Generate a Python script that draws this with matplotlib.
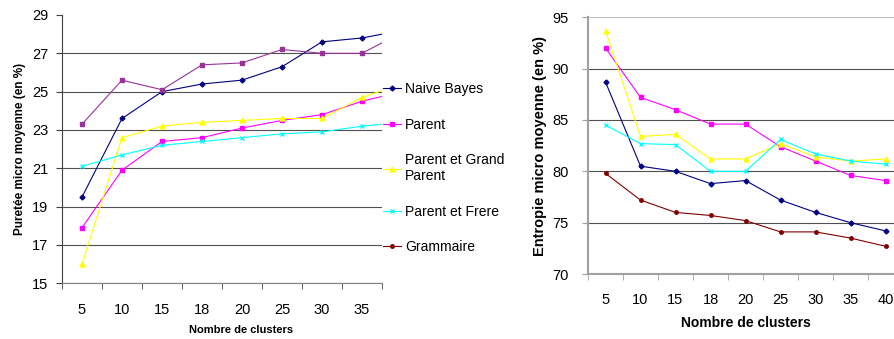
import matplotlib.pyplot as plt
import numpy as np

plt.rcParams['font.family'] = ['Liberation Sans', 'DejaVu Sans']

# Data
clusters = ["5", "10", "15", "18", "20", "25", "30", "35", "40"]
series_names = ["Naive Bayes", "Parent", "Parent et Grand\nParent", "Parent et Frere", "Grammaire"]

# Pureté micro moyenne (left chart, the 40 point is cut off by the plot edge)
purete_naive = [19.5, 23.6, 25.0, 25.4, 25.6, 26.3, 27.6, 27.8, 28.2]
purete_parent = [17.9, 20.9, 22.4, 22.6, 23.1, 23.5, 23.8, 24.5, 25.0]
purete_grand_parent = [16.0, 22.6, 23.2, 23.4, 23.5, 23.6, 23.6, 24.7, 25.4]
purete_frere = [21.1, 21.7, 22.2, 22.4, 22.6, 22.8, 22.9, 23.2, 23.4]
purete_grammaire = [23.3, 25.6, 25.1, 26.4, 26.5, 27.2, 27.0, 27.0, 28.1]

# Entropie micro moyenne (right chart)
entropie_naive = [88.7, 80.5, 80.0, 78.8, 79.1, 77.2, 76.0, 75.0, 74.2]
entropie_parent = [92.0, 87.2, 86.0, 84.6, 84.6, 82.4, 81.0, 79.6, 79.1]
entropie_grand_parent = [93.7, 83.4, 83.6, 81.2, 81.2, 82.7, 81.4, 81.0, 81.2]
entropie_frere = [84.5, 82.7, 82.6, 80.0, 80.0, 83.1, 81.7, 81.0, 80.7]
entropie_grammaire = [79.8, 77.2, 76.0, 75.7, 75.2, 74.1, 74.1, 73.5, 72.7]

styles = [
    dict(color="#000080", marker="D", ms=2.5),
    dict(color="#FF00FF", marker="s", ms=3.5),
    dict(color="#FFFF00", marker="^", ms=3.5),
    dict(color="#00FFFF", marker="x", ms=3.5, mew=1),
    dict(color="#800000", marker="o", ms=2.5),
]
left_styles = styles[:4] + [dict(color="#993399", marker="s", ms=2.5)]

x = np.arange(len(clusters))

fig = plt.figure(figsize=(8.94, 3.39), dpi=100)
W, H = 894, 339

# ---- left chart
ax1 = fig.add_axes([62 / W, 1 - 283.3 / H, 320 / W, 268.3 / H])
left_data = [purete_naive, purete_parent, purete_grand_parent, purete_frere, purete_grammaire]
for vals, st in zip(left_data, left_styles):
    ax1.plot(x, vals, lw=0.8, **st)

ax1.set_xlim(-0.5, 7.5)
ax1.set_ylim(15, 29)
ax1.set_yticks(np.arange(15, 30, 2))
ax1.set_xticks(x[:8])
ax1.set_xticklabels(clusters[:8])
ax1.set_xticks(np.arange(-0.5, 8, 1), minor=True)
ax1.tick_params(axis="x", which="major", length=0, pad=14, labelsize=10.5)
ax1.tick_params(axis="x", which="minor", length=4, direction="out", color="#404040")
ax1.tick_params(axis="y", length=4, direction="out", pad=6, labelsize=10.5, color="#404040")
ax1.yaxis.grid(True, color="#505050", lw=0.8)
ax1.get_ygridlines()[-1].set_visible(False)
ax1.set_axisbelow(True)
for s in ["top", "right"]:
    ax1.spines[s].set_visible(False)
ax1.spines["left"].set_color("#404040")
ax1.spines["bottom"].set_color("#808080")
ax1.set_ylabel("Puretée micro moyenne (en %)", fontsize=8.5, fontweight="bold", labelpad=4)
ax1.set_xlabel("Nombre de clusters", fontsize=8, fontweight="bold", x=0.56, labelpad=6)

# ---- right chart
ax2 = fig.add_axes([588 / W, 1 - 274 / H, 315 / W, 256.7 / H])
right_data = [entropie_naive, entropie_parent, entropie_grand_parent, entropie_frere, entropie_grammaire]
handles = []
for vals, st in zip(right_data, styles):
    h, = ax2.plot(x, vals, lw=0.8, **st)
    handles.append(h)

ax2.set_xlim(-0.5, 8.5)
ax2.set_ylim(70, 95)
ax2.set_yticks(np.arange(70, 96, 5))
ax2.set_xticks(x)
ax2.set_xticklabels(clusters)
ax2.set_xticks(np.arange(-0.5, 9, 1), minor=True)
ax2.tick_params(axis="x", which="major", length=0, pad=14, labelsize=10.5)
ax2.tick_params(axis="x", which="minor", length=4, direction="out", color="#a0a0a0")
ax2.tick_params(axis="y", length=4, direction="out", pad=10, labelsize=10.5, color="#a0a0a0")
ax2.yaxis.grid(True, color="#505050", lw=0.8)
ax2.get_ygridlines()[-1].set_color("#c0c0c0")
ax2.set_axisbelow(True)
for s in ["top", "right"]:
    ax2.spines[s].set_visible(False)
for s in ["left", "bottom"]:
    ax2.spines[s].set_color("#a0a0a0")
    ax2.spines[s].set_linewidth(1.5)
ax2.set_ylabel("Entropie micro moyenne (en %)", fontsize=10.5, fontweight="bold", labelpad=4)
ax2.set_xlabel("Nombre de clusters", fontsize=10, fontweight="bold", labelpad=6)

fig.legend(handles, series_names, loc="upper left", bbox_to_anchor=(383 / W, 1 - 82 / H),
           frameon=False, fontsize=10, handlelength=1.3, handletextpad=0.3,
           labelspacing=1.55, borderaxespad=0, borderpad=0)

fig.savefig("out.png", dpi=100)
